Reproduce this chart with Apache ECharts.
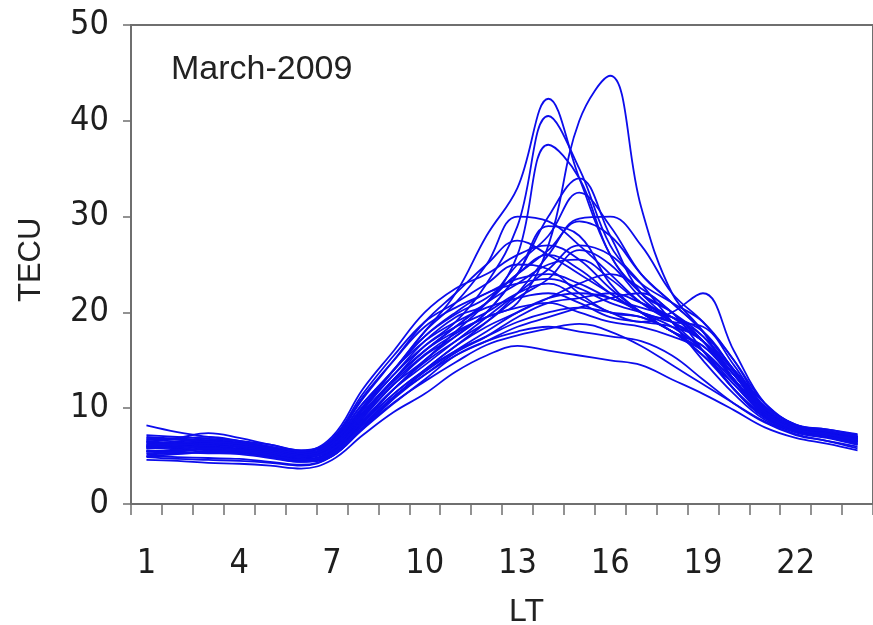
<!DOCTYPE html>
<html><head><meta charset="utf-8">
<script src="https://cdn.jsdelivr.net/npm/echarts@6/dist/echarts.min.js"></script>
<style>html,body{margin:0;padding:0;background:#fff}#c{width:873px;height:625px}</style>
</head><body><div id="c"></div>
<script>
const hours = ['1','2','3','4','5','6','7','8','9','10','11','12','13','14','15','16','17','18','19','20','21','22','23','24'];
const yTicks = [0,10,20,30,40,50];
const chartTitle = 'March-2009';
const xName = 'LT';
const yName = 'TECU';

const d01 = [6.5,6.2,6.0,5.8,5.3,4.8,5.8,9.5,13,16,18,19.5,21,27,40,44.7,31,22,18,13,9.5,8,7.5,6.8];
const d02 = [6,5.8,5.6,5.5,5.2,5,6.5,10,14,18,22,28,33,42.3,34,26,22,19,16,12,9,7.8,7.3,6.8];
const d03 = [5.8,6,6.2,6,5.5,5,6,9.5,13,16.5,19,23,29,40.5,35,27,23,19,15,11.5,8.8,7.5,7,6.5];
const d04 = [6.3,6.5,6.8,6.2,5.8,5.2,6.2,10,13.5,17,19.5,21,26,37.5,34,26,22,20,16,12,9,7.8,7.5,6.9];
const d05 = [5.5,5.6,5.8,5.5,5,4.6,5.5,8.5,12,15,17.5,20,24,30,34,28,22,20,17,13,9.5,8,7.5,7];
const d06 = [6,6.1,6.5,6.3,5.8,5.3,6,9,12.5,15,18,21,25,28,32.5,29,24,21,18,14,10,8,7.2,6.5];
const d07 = [6.8,6.5,6.3,6.0,5.6,5.0,6.5,10.5,14,18,21,25,30,29.5,27,24,21,19,17,14,10.5,8.2,7.5,7];
const d08 = [5.2,5.3,5.5,5.4,5.0,4.5,5.2,8,11,14,16.5,19,22,26,29.8,30,27,22,19,15,10,7.8,7.2,6.5];
const d09 = [6.5,6.8,7.0,6.6,6.0,5.4,6.6,11,15,19,22,25,27.5,26,24,22,20,19,17,13.5,9.5,7.8,7.0,6.3];
const d10 = [6.0,6.0,6.2,6.0,5.6,5.0,5.8,8.8,12,14.5,17,19.5,22,24.5,27,26,23,21,19,15,10.5,8.2,7.6,7.0];
const d11 = [5.5,5.7,6.0,5.7,5.2,4.7,5.5,9.2,13,16,18.5,21,24,26,24.5,22,20,18.5,16,12,9.2,7.5,7.0,6.4];
const d12 = [7.0,6.8,6.6,6.3,5.9,5.4,6.8,11.5,15.5,19,21,23,25,24.5,22,20,19.5,18,15.5,12,9,7.6,7.2,6.8];
const d13 = [5.8,5.9,6.1,5.9,5.4,4.9,5.6,8.5,11.5,14,16.5,18.5,20,21.5,23,24,22.5,20,17,13,9.8,8.0,7.4,6.8];
const d14 = [6.2,6.0,5.9,5.7,5.3,4.9,6.0,9.8,13.5,16.5,18.5,20,22,23,21.5,20,19,20,22,16,10.5,8.3,7.6,7.0];
const d15 = [5.0,5.2,5.4,5.3,4.9,4.4,5.0,8.0,11,13.5,15.5,17,18.5,19.5,20.5,21.5,22,20,17.5,13.5,10,7.8,7.0,6.2];
const d16 = [6.6,6.4,6.5,6.2,5.7,5.2,6.3,10,14,17,19,20.5,21.5,22,21,19.5,19,18.5,17,13,9.5,8.0,7.5,7.0];
const d17 = [4.9,4.7,4.6,4.5,4.3,4.0,5.0,7.8,10.5,13,15.5,17,18,18.5,18,17.5,17,15.5,13,10.5,8.5,7.2,6.6,6.0];
const d18 = [4.6,4.5,4.3,4.2,4.0,3.7,4.6,7.2,9.6,11.5,13.8,15.5,16.5,16,15.5,15,14.5,13,11.5,9.8,8.0,6.9,6.3,5.6];
const d19 = [5.5,5.4,5.3,5.2,4.8,4.4,5.2,8.5,11.5,14,16,17.5,19,20,20.5,20,19.5,18,15.5,12.5,9.2,7.5,6.9,6.2];
const d20 = [8.2,7.5,7.0,6.6,6.2,5.6,6.5,10.5,14,17.5,20,22,23,23.5,22.5,21,20,19,18.5,14.5,10,8.2,7.8,7.2];
const d21 = [6.4,6.3,6.4,6.1,5.6,5.1,6.0,9.2,12.5,15.5,17.5,20,24,29,28,23,20,18,16,12.5,9.3,7.7,7.2,6.6];
const d22 = [5.9,6.1,6.3,6.0,5.5,5.0,5.7,8.7,12,14.8,17,19,21.5,23.5,26.5,25,21.5,19,17,13.5,9.8,8.0,7.3,6.6];
const d23 = [6.7,6.9,7.4,6.9,6.2,5.6,6.7,11.2,15,18.5,20.5,22,23.5,24,23,21.5,20.5,19.5,18,14,10.2,8.3,7.8,7.3];
const d24 = [5.6,5.5,5.7,5.5,5.1,4.6,5.4,8.2,11.2,13.8,16,18,20,21.5,22,21.5,20,18,16.5,13.5,9.6,7.9,7.3,6.5];
const d25 = [6.1,6.3,6.6,6.4,5.9,5.3,6.2,9.6,13,16,18.5,21,23,25,25.5,23.5,21,19.5,17.5,13.8,10,8.1,7.4,6.7];
const d26 = [5.3,5.5,5.8,5.6,5.1,4.6,5.3,8.3,11.2,13.5,15.8,17.5,19.5,21,21.5,22,21,19.5,17,13,9.7,7.9,7.1,6.3];
const d27 = [7.2,7.0,6.8,6.5,6.0,5.5,7.0,12,16,20,22.5,24,26,27,25.5,22.5,20,18,16.5,13,9.6,8.0,7.6,7.0];
const d28 = [6.2,6.2,6.3,6.1,5.7,5.1,6.1,9.4,12.8,15.6,17.8,19.5,20.5,21,20,19,18.5,17.5,16,12.8,9.4,7.8,7.3,6.7];
const d29 = [5.0,4.9,4.8,4.7,4.4,4.1,5.0,7.9,10.6,12.8,14.8,16.6,17.6,18.3,18.8,18,16.5,14.5,12.5,10.5,8.6,7.3,6.6,5.8];
const d30 = [6.9,6.7,6.5,6.3,5.8,5.3,6.4,10.2,14,17.5,19.8,21.5,24,26.5,29.5,28,24,21,18,14,10,8.1,7.6,7.1];

const days = [d01,d02,d03,d04,d05,d06,d07,d08,d09,d10,d11,d12,d13,d14,d15,d16,d17,d18,d19,d20,d21,d22,d23,d24,d25,d26,d27,d28,d29,d30];

const narrow = "'Liberation Sans Narrow','DejaVu Sans Condensed','Arial Narrow',sans-serif";
const regular = "'Liberation Sans',Arial,sans-serif";
const axisCol = '#6f6f6f';

const chart = echarts.init(document.getElementById('c'), null, {renderer:'canvas'});
chart.setOption({
  animation: false,
  backgroundColor: '#fff',
  grid: {left: 131, top: 25, width: 749, height: 479, show: true, borderColor: axisCol, borderWidth: 2, containLabel: false},
  xAxis: {
    type: 'category', data: hours, boundaryGap: true,
    axisLine: {lineStyle: {color: axisCol, width: 2}},
    axisTick: {show: true, interval: 0, length: 11, lineStyle: {color: axisCol, width: 1.5}},
    axisLabel: {interval: 2, margin: 43, fontSize: 34, fontFamily: narrow, color: '#1e1e1e'},
    splitLine: {show: false}
  },
  yAxis: {
    type: 'value', min: yTicks[0], max: yTicks[yTicks.length-1], interval: 10,
    axisLine: {show: true, lineStyle: {color: axisCol, width: 2}},
    axisTick: {show: true, length: 8, lineStyle: {color: axisCol, width: 1.5}},
    axisLabel: {margin: 22, fontSize: 34, fontFamily: narrow, color: '#1e1e1e'},
    splitLine: {show: false}
  },
  graphic: [
    {type: 'text', left: 171, top: 53, style: {text: chartTitle, font: "34px " + regular, fill: '#222'}},
    {type: 'text', left: 509, top: 596, style: {text: xName, font: "32px " + regular, fill: '#222'}},
    {type: 'text', x: 16, y: 302, rotation: Math.PI/2, style: {text: yName, font: "31px " + regular, fill: '#222'}}
  ],
  series: days.map((d, i) => ({
    type: 'line', name: 'd' + (i+1), data: d, smooth: 0.4, showSymbol: false,
    lineStyle: {color: '#0c0cec', width: 1.8}, z: 3
  }))
});
</script></body></html>
